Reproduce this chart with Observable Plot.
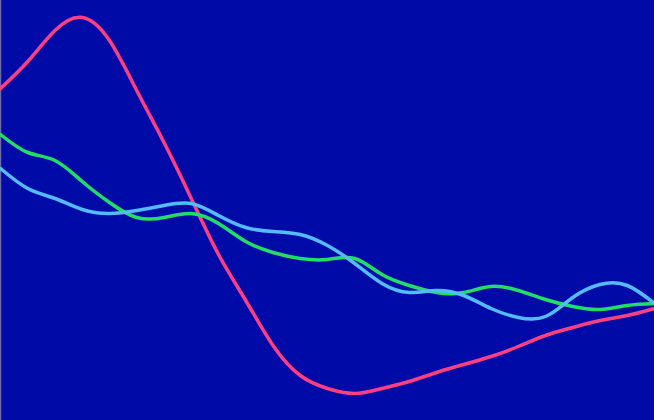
<!DOCTYPE html>
<html>
<head>
<meta charset="utf-8">
<script src="https://cdn.jsdelivr.net/npm/d3@7"></script>
<script src="https://cdn.jsdelivr.net/npm/@observablehq/plot@0.6"></script>
<style>
  html, body { margin: 0; padding: 0; background: #000aa6; overflow: hidden; }
  #chart svg { display: block; }
</style>
</head>
<body>
<div id="chart"></div>
<script>
// sample positions (0..24)
const xs = d3.range(25);
// values stored as distance from the top of a 0..420 scale; converted below
const seriesA = [88,61,30,17,40,90,142,198,254,300,345,375,388,393,388,381,372,364,356,346,335,327,320,315,308];
const seriesB = [134,152,160,181,202,217,217,213,223,241,252,258,259,258,274,285,292,292,286,290,299,306,309,305,303];
const seriesC = [168,188,198,209,213,210,205,203,215,227,231,234,245,263,283,292,290,295,308,317,316,297,284,285,303];
const seriesNames = ["Series A", "Series B", "Series C"];
const seriesColors = ["#ff3f80", "#22dd66", "#55bbff"];

const toVal = y => 420 - y;
const rows = [];
[seriesA, seriesB, seriesC].forEach((arr, s) => {
  arr.forEach((y, i) => rows.push({x: xs[i], v: toVal(y), s: seriesNames[s]}));
});

const chart = Plot.plot({
  width: 654,
  height: 420,
  margin: 0,
  style: {background: "#000aa6", overflow: "visible"},
  x: {domain: [0, 24], axis: null},
  y: {domain: [0, 420], axis: null},
  color: {domain: seriesNames, range: seriesColors},
  marks: [
    Plot.ruleX([0], {stroke: "#6a6ab0", strokeWidth: 1.5}),
    Plot.line(rows, {x: "x", y: "v", z: "s", stroke: "s", strokeWidth: 3.5, curve: "natural"})
  ]
});
document.getElementById("chart").appendChild(chart);
</script>
</body>
</html>
